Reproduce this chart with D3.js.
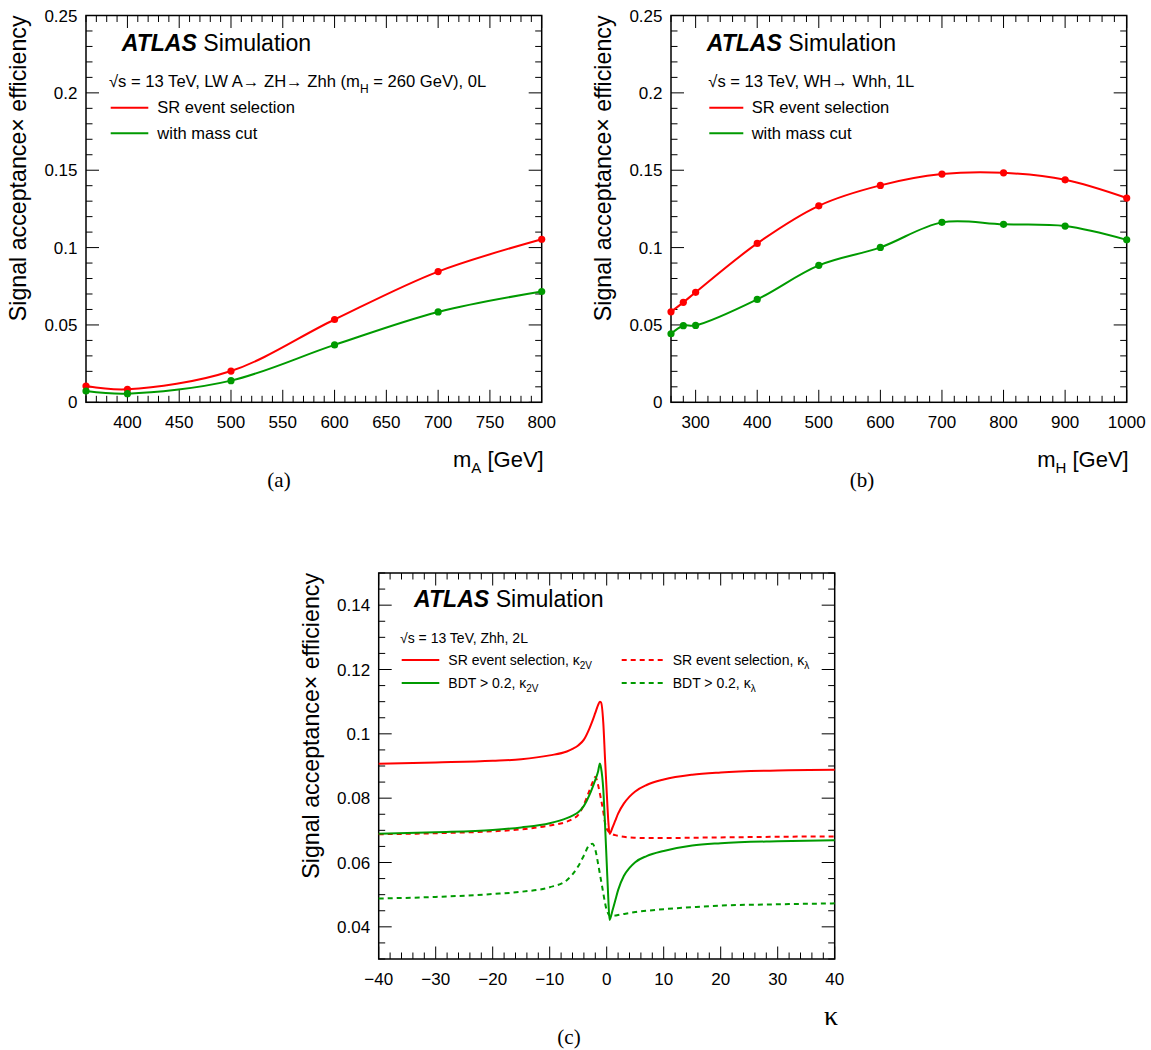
<!DOCTYPE html>
<html><head><meta charset="utf-8">
<script src="https://cdn.jsdelivr.net/npm/d3@7"></script>
<style>
body{margin:0;background:#fff}
svg text{font-family:"Liberation Sans",Arial,Helvetica,sans-serif;fill:#000}
</style>
</head><body>
<svg id="chart" width="1151" height="1050"></svg>
<script>
// ---------------- data ----------------
// panel (a): LW A -> ZH -> Zhh, 0L
const massA = [360, 400, 500, 600, 700, 800];
const accA_SR = [0.0105, 0.0084, 0.0202, 0.0535, 0.0845, 0.1054];
const accA_cut = [0.0073, 0.0056, 0.0140, 0.0371, 0.0584, 0.0716];
// panel (b): WH -> Whh, 1L
const massH = [260, 280, 300, 400, 500, 600, 700, 800, 900, 1000];
const accH_SR = [0.0585, 0.0646, 0.0711, 0.1027, 0.1270, 0.1402, 0.1475, 0.1483, 0.1438, 0.1320];
const accH_cut = [0.0443, 0.0495, 0.0497, 0.0665, 0.0885, 0.1001, 0.1163, 0.1150, 0.1139, 0.1050];
// panel (c): Zhh 2L, coupling scans
const kappa =   [-40, -30, -20, -15, -10, -7, -6, -5, -4, -3, -2.5, -2, -1.5, -1.2, -1, -0.6, -0.3, 0, 0.3, 0.5, 1, 1.5, 2, 3, 4, 5, 7, 10, 15, 20, 30, 40];
const sr_k2v =  [0.0907, 0.0911, 0.0916, 0.0921, 0.0933, 0.0945, 0.0953, 0.0964, 0.0982, 0.1018, 0.1040, 0.1065, 0.1090, 0.1100, 0.1098, 0.1035, 0.0925, 0.0820, 0.0724, 0.0689, 0.0708, 0.0730, 0.0752, 0.0783, 0.0805, 0.0821, 0.0841, 0.0858, 0.0873, 0.0880, 0.0886, 0.0888];
const bdt_k2v = [0.0689, 0.0694, 0.0701, 0.0709, 0.0722, 0.0738, 0.0746, 0.0756, 0.0776, 0.0811, 0.0833, 0.0857, 0.0884, 0.0908, 0.0895, 0.0827, 0.0720, 0.0600, 0.0480, 0.0421, 0.0450, 0.0482, 0.0514, 0.0558, 0.0583, 0.0601, 0.0620, 0.0636, 0.0653, 0.0660, 0.0666, 0.0669];
const sr_kl =   [0.0688, 0.0691, 0.0697, 0.0703, 0.0715, 0.0727, 0.0735, 0.0748, 0.0780, 0.0825, 0.0848, 0.0866, 0.0840, 0.0815, 0.0797, 0.0758, 0.0724, 0.0705, 0.0697, 0.0694, 0.0688, 0.0685, 0.0683, 0.0680, 0.0678, 0.0677, 0.0676, 0.0676, 0.0677, 0.0678, 0.0680, 0.0681];
const bdt_kl =  [0.0488, 0.0493, 0.0502, 0.0509, 0.0523, 0.0545, 0.0563, 0.0588, 0.0622, 0.0655, 0.0658, 0.0640, 0.0595, 0.0565, 0.0545, 0.0505, 0.0475, 0.0452, 0.0440, 0.0435, 0.0434, 0.0435, 0.0437, 0.0440, 0.0443, 0.0446, 0.0450, 0.0455, 0.0461, 0.0466, 0.0470, 0.0473];
// tick labels
const yTicksAB = [0, 0.05, 0.1, 0.15, 0.2, 0.25];
const xTicksA = [400, 450, 500, 550, 600, 650, 700, 750, 800];
const xTicksB = [300, 400, 500, 600, 700, 800, 900, 1000];
const xTicksC = [-40, -30, -20, -10, 0, 10, 20, 30, 40];
const yTicksC = [0.04, 0.06, 0.08, 0.1, 0.12, 0.14];

// ---------------- drawing ----------------
const RED = "#ff0000", GREEN = "#009a00";
const SERIF = "'Liberation Serif','Times New Roman',serif";
const svg = d3.select("#chart");
const fmt = v => String(+v.toFixed(4)).replace("-", "\u2212");

function drawFrame(xs, ys, xMajor, xMinorStep, yMajor, yMinorStep) {
  const [x0, x1] = xs.range(), [y0, y1] = ys.range();
  const g = svg.append("g");
  const t = g.append("g").attr("stroke", "#000").attr("stroke-width", 1);
  const [dx0, dx1] = xs.domain(), [dy0, dy1] = ys.domain();
  const xMin = d3.range(Math.ceil(dx0 / xMinorStep - 1e-6), Math.floor(dx1 / xMinorStep + 1e-6) + 1).map(i => i * xMinorStep);
  const yMin = d3.range(Math.ceil(dy0 / yMinorStep - 1e-6), Math.floor(dy1 / yMinorStep + 1e-6) + 1).map(i => +(i * yMinorStep).toFixed(6));
  xMin.forEach(v => {
    const big = xMajor.some(m => Math.abs(m - v) < 1e-6);
    const L = big ? 12.5 : 6.5, X = xs(v);
    t.append("line").attr("x1", X).attr("x2", X).attr("y1", y0).attr("y2", y0 - L);
    t.append("line").attr("x1", X).attr("x2", X).attr("y1", y1).attr("y2", y1 + L);
  });
  yMin.forEach(v => {
    const big = yMajor.some(m => Math.abs(m - v) < 1e-6);
    const L = big ? 13 : 6.5, Y = ys(v);
    t.append("line").attr("x1", x0).attr("x2", x0 + L).attr("y1", Y).attr("y2", Y);
    t.append("line").attr("x1", x1).attr("x2", x1 - L).attr("y1", Y).attr("y2", Y);
  });
  g.append("rect").attr("x", x0).attr("y", y1).attr("width", x1 - x0).attr("height", y0 - y1)
    .attr("fill", "none").attr("stroke", "#000").attr("stroke-width", 1.5);
  g.selectAll(".xl").data(xMajor).enter().append("text")
    .attr("x", d => xs(d)).attr("y", y0 + 26).attr("text-anchor", "middle")
    .style("font-size", "17px").text(fmt);
  g.selectAll(".yl").data(yMajor).enter().append("text")
    .attr("x", x0 - 8.5).attr("y", d => ys(d)).attr("dy", "0.36em").attr("text-anchor", "end")
    .style("font-size", "17px").text(fmt);
  // y title
  svg.append("text").attr("transform", `translate(${x0 - 60},${y1}) rotate(-90)`)
    .attr("text-anchor", "end").style("font-size", "23.2px").text("Signal acceptance\u00d7 efficiency");
}

function xTitleMass(xs, ys, sub) {
  const [, x1] = xs.range(), [y0] = ys.range();
  const t = svg.append("text").attr("x", x1 + 2).attr("y", y0 + 65).attr("text-anchor", "end").style("font-size", "22px");
  t.append("tspan").text("m");
  t.append("tspan").attr("dy", 6).style("font-size", "15px").text(sub);
  t.append("tspan").attr("dy", -6).text(" [GeV]");
}

function atlas(x, y) {
  const t = svg.append("text").attr("x", x).attr("y", y).style("font-size", "23.1px");
  t.append("tspan").style("font-weight", "bold").style("font-style", "italic").text("ATLAS");
  t.append("tspan").text(" Simulation");
}

function legendLine(x1, x2, y, color, dash) {
  svg.append("line").attr("x1", x1).attr("x2", x2).attr("y1", y).attr("y2", y)
    .attr("stroke", color).attr("stroke-width", 2).attr("stroke-dasharray", dash || null);
}

function series(xs, ys, X, Y, color, curve, dash, markers) {
  const pts = X.map((x, i) => [x, Y[i]]);
  svg.append("path").datum(pts)
    .attr("d", d3.line().x(d => xs(d[0])).y(d => ys(d[1])).curve(curve))
    .attr("fill", "none").attr("stroke", color).attr("stroke-width", 2)
    .attr("stroke-dasharray", dash || null);
  if (markers) {
    svg.append("g").selectAll("circle").data(pts).enter().append("circle")
      .attr("cx", d => xs(d[0])).attr("cy", d => ys(d[1])).attr("r", 3.6).attr("fill", color);
  }
}

// ---- panel (a)
{
  const xs = d3.scaleLinear().domain([360, 800]).range([86, 541.7]);
  const ys = d3.scaleLinear().domain([0, 0.25]).range([402.3, 15.5]);
  drawFrame(xs, ys, xTicksA, 10, yTicksAB, 0.01);
  const cr = d3.curveCatmullRom.alpha(0.5);
  series(xs, ys, massA, accA_SR, RED, cr, null, true);
  series(xs, ys, massA, accA_cut, GREEN, cr, null, true);
  xTitleMass(xs, ys, "A");
  atlas(121.7, 50.7);
  const t = svg.append("text").attr("x", 109).attr("y", 86.7).style("font-size", "16.6px");
  t.append("tspan").text("\u221as = 13 TeV, LW A\u2192 ZH\u2192 Zhh (m");
  t.append("tspan").attr("dy", 6).style("font-size", "12px").text("H");
  t.append("tspan").attr("dy", -6).text(" = 260 GeV), 0L");
  legendLine(110.7, 148.3, 107.7, RED);
  legendLine(110.7, 148.3, 133.3, GREEN);
  svg.append("text").attr("x", 157.3).attr("y", 113.3).style("font-size", "16.5px").text("SR event selection");
  svg.append("text").attr("x", 157.3).attr("y", 139).style("font-size", "16.5px").text("with mass cut");
  svg.append("text").attr("x", 279).attr("y", 487).attr("text-anchor", "middle")
    .style("font-family", SERIF).style("font-size", "21px").text("(a)");
}

// ---- panel (b)
{
  const xs = d3.scaleLinear().domain([260, 1000]).range([671, 1126.7]);
  const ys = d3.scaleLinear().domain([0, 0.25]).range([402.3, 15.5]);
  drawFrame(xs, ys, xTicksB, 20, yTicksAB, 0.01);
  const cr = d3.curveCatmullRom.alpha(0.5);
  series(xs, ys, massH, accH_SR, RED, cr, null, true);
  series(xs, ys, massH, accH_cut, GREEN, cr, null, true);
  xTitleMass(xs, ys, "H");
  atlas(706.7, 50.7);
  svg.append("text").attr("x", 708.3).attr("y", 86.7).style("font-size", "16.6px").text("\u221as = 13 TeV, WH\u2192 Whh, 1L");
  legendLine(709.3, 743.3, 107.7, RED);
  legendLine(709.3, 743.3, 133.3, GREEN);
  svg.append("text").attr("x", 751.7).attr("y", 113.3).style("font-size", "16.5px").text("SR event selection");
  svg.append("text").attr("x", 751.7).attr("y", 139).style("font-size", "16.5px").text("with mass cut");
  svg.append("text").attr("x", 862).attr("y", 487).attr("text-anchor", "middle")
    .style("font-family", SERIF).style("font-size", "21px").text("(b)");
}

// ---- panel (c)
{
  const xs = d3.scaleLinear().domain([-40, 40]).range([378.7, 834.7]);
  const ys = d3.scaleLinear().domain([0.03, 0.15]).range([959, 573]);
  drawFrame(xs, ys, xTicksC, 2, yTicksC, 0.005);
  const mc = d3.curveMonotoneX;
  series(xs, ys, kappa, sr_kl, RED, mc, "5,4", false);
  series(xs, ys, kappa, bdt_kl, GREEN, mc, "5,4", false);
  series(xs, ys, kappa, sr_k2v, RED, mc, null, false);
  series(xs, ys, kappa, bdt_k2v, GREEN, mc, null, false);
  svg.append("text").attr("x", 838).attr("y", 1025).attr("text-anchor", "end")
    .style("font-family", SERIF).style("font-size", "28px").text("\u03ba");
  atlas(414, 606.7);
  svg.append("text").attr("x", 400).attr("y", 642.5).style("font-size", "14px").text("\u221as = 13 TeV, Zhh, 2L");
  function kl(x, y, pre, sub) {
    const t = svg.append("text").attr("x", x).attr("y", y).style("font-size", "14px");
    t.append("tspan").text(pre + "\u03ba");
    t.append("tspan").attr("dy", 4).style("font-size", "10px").text(sub);
  }
  legendLine(401.7, 439.3, 660, RED);
  legendLine(401.7, 439.3, 683, GREEN);
  legendLine(621.7, 663.3, 660, RED, "5,4");
  legendLine(621.7, 663.3, 683, GREEN, "5,4");
  kl(448.3, 665, "SR event selection, ", "2V");
  kl(448.3, 688, "BDT > 0.2, ", "2V");
  kl(672.7, 665, "SR event selection, ", "\u03bb");
  kl(672.7, 688, "BDT > 0.2, ", "\u03bb");
  svg.append("text").attr("x", 569).attr("y", 1044).attr("text-anchor", "middle")
    .style("font-family", SERIF).style("font-size", "21px").text("(c)");
}
</script>
</body></html>
